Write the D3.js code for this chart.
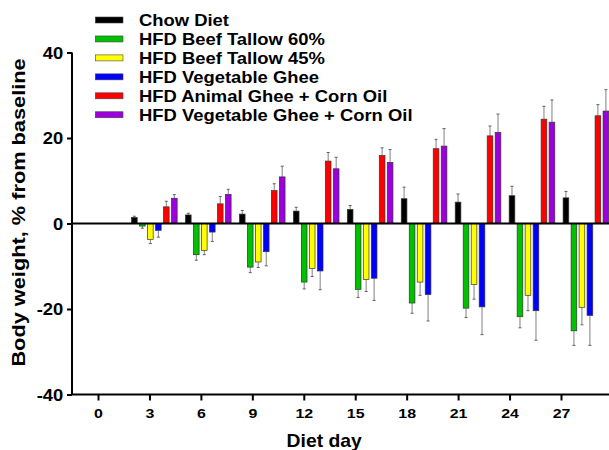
<!DOCTYPE html>
<html>
<head>
<meta charset="utf-8">
<script src="https://cdn.jsdelivr.net/npm/d3@7"></script>
<style>
  body { margin: 0; background: #fff; }
  svg { display: block; }
  text { font-family: Arial, "Liberation Sans", sans-serif; font-weight: bold; fill: #000; }
</style>
</head>
<body>
<figure id="chart" style="margin:0"></figure>
<script>
// diet days on the axis and the days that have bars
const tickDays = [0, 3, 6, 9, 12, 15, 18, 21, 24, 27];
const days = [3, 6, 9, 12, 15, 18, 21, 24, 27];
const yTicks = [-40, -20, 0, 20, 40];

const seriesNames = ["Chow Diet", "HFD Beef Tallow 60%", "HFD Beef Tallow 45%",
  "HFD Vegetable Ghee", "HFD Animal Ghee + Corn Oil", "HFD Vegetable Ghee + Corn Oil"];
const seriesColors = ["#000000", "#00c000", "#ffff00", "#0000ff", "#ff0000", "#9b00dc"];

// % change from baseline (mean) and error
const chow = [1.4, 2.0, 2.2, 2.9, 3.3, 5.8, 5.0, 6.5, 6.0];
const chowErr = [0.3, 0.4, 0.85, 0.9, 0.9, 2.7, 1.9, 2.2, 1.5];
const beef60 = [-0.6, -7.3, -10.2, -13.7, -15.4, -18.6, -19.8, -21.8, -25.1];
const beef60Err = [0.5, 1.3, 1.3, 1.6, 1.9, 2.4, 2.2, 2.6, 3.4];
const beef45 = [-3.7, -6.3, -9.0, -10.5, -13.1, -13.7, -14.3, -16.8, -19.6];
const beef45Err = [1.0, 1.0, 1.3, 1.9, 2.8, 3.1, 3.4, 3.6, 4.1];
const vegGhee = [-1.6, -2.0, -6.6, -11.1, -12.8, -16.6, -19.5, -20.4, -21.5];
const vegGheeErr = [1.6, 2.2, 3.3, 4.4, 5.2, 6.2, 6.5, 6.9, 7.0];
const animalCorn = [3.9, 4.6, 7.7, 14.6, 15.9, 17.5, 20.5, 24.4, 25.2];
const animalCornErr = [1.3, 1.7, 1.6, 2.0, 1.8, 2.2, 2.3, 3.0, 2.6];
const vegCorn = [5.9, 6.8, 10.9, 12.8, 14.3, 18.1, 21.3, 23.7, 26.3];
const vegCornErr = [0.85, 1.2, 2.5, 2.7, 3.0, 4.1, 4.3, 5.2, 5.0];

const values = [chow, beef60, beef45, vegGhee, animalCorn, vegCorn];
const errors = [chowErr, beef60Err, beef45Err, vegGheeErr, animalCornErr, vegCornErr];

const width = 609, height = 450;
const axisX = 72;
const stretch = 1.15; // text in the source is a bit wide

const svg = d3.select("figure#chart")
  .append("svg")
  .attr("width", width)
  .attr("height", height);

const y = d3.scaleLinear().domain([-40, 40]).range([394.5, 52.5]);

// group position (bars) and the day axis use different scales, like the source
const x0 = d3.scaleBand()
  .domain(tickDays)
  .range([73.4, 612.9])
  .paddingInner(0.111)
  .paddingOuter(0.0555);

const x1 = d3.scaleBand()
  .domain(d3.range(seriesNames.length))
  .range([0, x0.bandwidth()])
  .paddingInner(0.29)
  .paddingOuter(0.145);

const xDay = d3.scaleLinear().domain([0, 27]).range([98, 561]);

// Y axis
const yAxis = svg.append("g")
  .attr("transform", "translate(" + axisX + ",0)")
  .call(d3.axisLeft(y).tickValues(yTicks).tickFormat((d) => String(d)).tickSize(5).tickPadding(4));
yAxis.select(".domain").attr("stroke", "#000").attr("stroke-width", 2).attr("d", "M0," + y(40) + "V" + y(-40));
yAxis.selectAll(".tick line").attr("stroke-width", 2);
yAxis.selectAll("text")
  .style("font-size", "16px")
  .attr("x", -8.7 / stretch)
  .attr("dy", "0.36em")
  .attr("transform", "scale(" + stretch + ",1)");

// X axis
const xAxis = svg.append("g")
  .attr("transform", "translate(0," + y(-40) + ")")
  .call(d3.axisBottom(xDay).tickValues(tickDays).tickSize(6).tickPadding(8));
xAxis.select(".domain").attr("stroke", "#000").attr("stroke-width", 2).attr("d", "M" + (axisX - 1) + ",0H" + width);
xAxis.selectAll(".tick line").attr("stroke-width", 2);
xAxis.selectAll("text")
  .style("font-size", "13.5px")
  .attr("transform", "scale(1.18,1)");

// bars
const groups = svg.append("g")
  .selectAll("g")
  .data(days)
  .enter()
  .append("g")
  .attr("transform", (d) => "translate(" + x0(d) + ",0)");

groups.each(function (day, di) {
  const g = d3.select(this);
  values.forEach((vals, si) => {
    const v = vals[di], e = errors[si][di];
    const bx = x1(si), bw = x1.bandwidth();
    const cx = bx + bw / 2;
    const tip = v >= 0 ? v + e : v - e;
    // error bar on the side away from zero
    g.append("line")
      .attr("x1", cx).attr("x2", cx)
      .attr("y1", y(v)).attr("y2", y(tip))
      .attr("stroke", "#808080").attr("stroke-width", 1);
    g.append("line")
      .attr("x1", cx - 1.5).attr("x2", cx + 1.5)
      .attr("y1", y(tip)).attr("y2", y(tip))
      .attr("stroke", "#606060").attr("stroke-width", 1);
    g.append("rect")
      .attr("x", bx)
      .attr("y", y(Math.max(0, v)))
      .attr("width", bw)
      .attr("height", Math.abs(y(v) - y(0)))
      .attr("fill", seriesColors[si])
      .attr("stroke", "#333")
      .attr("stroke-width", 0.7);
  });
});

// zero line
svg.append("line")
  .attr("x1", axisX).attr("x2", width)
  .attr("y1", y(0)).attr("y2", y(0))
  .attr("stroke", "#000").attr("stroke-width", 2);

// legend
const legend = svg.append("g").attr("transform", "translate(95.3,20)");
const rows = legend.selectAll("g")
  .data(seriesNames)
  .enter()
  .append("g")
  .attr("transform", (d, i) => "translate(0," + (i * 18.95) + ")");
rows.append("rect")
  .attr("x", 0).attr("y", -3)
  .attr("width", 27.7).attr("height", 6)
  .attr("fill", (d, i) => seriesColors[i])
  .attr("stroke", "#444").attr("stroke-width", 0.6);
rows.append("text")
  .attr("x", 43.7 / 1.13)
  .attr("y", 5.8)
  .attr("transform", "scale(1.13,1)")
  .style("font-size", "16.3px")
  .text((d) => d);

// axis titles
svg.append("text")
  .attr("transform", "translate(324.2,446.5) scale(1.04,1)")
  .attr("text-anchor", "middle")
  .style("font-size", "18.6px")
  .text("Diet day");

svg.append("text")
  .attr("transform", "translate(25,212.5) rotate(-90) scale(1.17,1)")
  .attr("text-anchor", "middle")
  .style("font-size", "18.6px")
  .text("Body weight, % from baseline");
</script>
</body>
</html>
